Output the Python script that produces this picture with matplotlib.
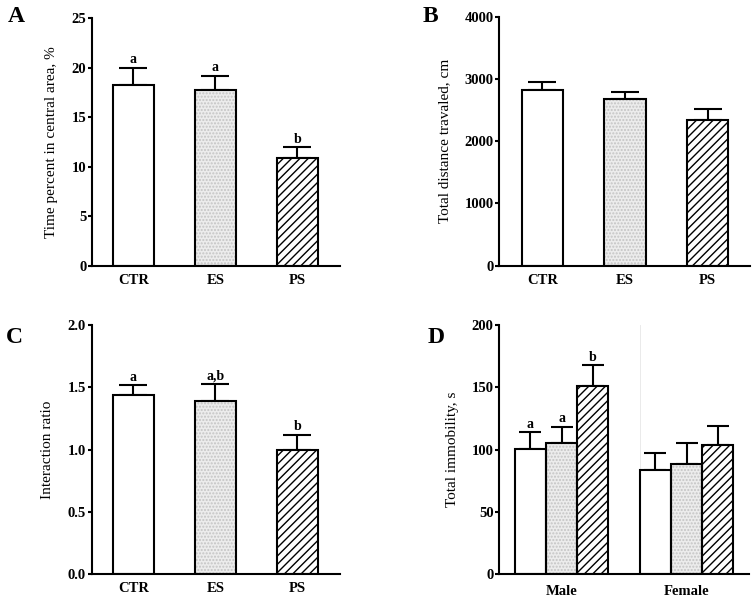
import matplotlib.pyplot as plt
import numpy as np

# panel A: time in central area (%)
groups = ['CTR', 'ES', 'PS']
a_mean = [18.2, 17.7, 10.9]
a_sem = [1.8, 1.5, 1.1]
a_sig = ['a', 'a', 'b']

# panel B: total distance (cm)
b_mean = [2820, 2685, 2345]
b_sem = [135, 110, 165]

# panel C: interaction ratio
c_mean = [1.44, 1.39, 1.00]
c_sem = [0.075, 0.135, 0.12]
c_sig = ['a', 'a,b', 'b']

# panel D: immobility (s), by sex
sexes = ['Male', 'Female']
d_male = [100.5, 105.0, 151.5]
d_male_sem = [13.5, 13.5, 16.5]
d_male_sig = ['a', 'a', 'b']
d_female = [83.5, 88.5, 103.5]
d_female_sem = [14.0, 17.0, 15.5]

plt.rcParams['font.family'] = 'Liberation Serif'
plt.rcParams['hatch.linewidth'] = 1.0

hatches = [None, '.....', '////']


def draw_bars(ax, x, means, sems, width, capsize):
    for i in range(len(means)):
        if hatches[i] == '.....':
            ax.bar(x[i], means[i], width, color='#ececec', edgecolor='#c4c4c4',
                   hatch='.....', linewidth=0, zorder=2)
        elif hatches[i] == '////':
            ax.bar(x[i], means[i], width, color='white', edgecolor='black',
                   hatch='////', linewidth=0, zorder=2)
        else:
            ax.bar(x[i], means[i], width, color='white', linewidth=0, zorder=2)
        ax.bar(x[i], means[i], width, fill=False, edgecolor='black', linewidth=1.5, zorder=3)
    ax.errorbar(x, means, yerr=[np.zeros(len(means)), sems], fmt='none',
                ecolor='black', elinewidth=1.5, capsize=capsize, capthick=1.5, zorder=1)


def add_sig(ax, x, means, sems, labels):
    for xi, m, s, lab in zip(x, means, sems, labels):
        ax.annotate(lab, (xi, m + s), xytext=(0, 1), textcoords='offset points',
                    ha='center', va='bottom', fontsize=10, fontweight='bold')


def style(ax, ylabel, labx):
    for sp in ['top', 'right']:
        ax.spines[sp].set_visible(False)
    for sp in ['left', 'bottom']:
        ax.spines[sp].set_linewidth(1.5)
    ax.tick_params(axis='y', length=3, width=1.5, labelsize=10.5, pad=1)
    ax.tick_params(axis='x', length=0, labelsize=10.5)
    for t in ax.get_yticklabels() + ax.get_xticklabels():
        t.set_fontweight('bold')
    ax.set_ylabel(ylabel, fontsize=11)
    ax.yaxis.set_label_coords(labx, 0.5)


fig = plt.figure(figsize=(7.52, 5.98), dpi=100)

x = np.arange(3)

axA = fig.add_axes([0.1223, 0.5552, 0.3298, 0.4147])
draw_bars(axA, x, a_mean, a_sem, 0.5, 10)
add_sig(axA, x, a_mean, a_sem, a_sig)
axA.set_xlim(-0.506, 2.518)
axA.set_ylim(0, 25)
axA.set_yticks([0, 5, 10, 15, 20, 25])
axA.set_xticks(x)
axA.set_xticklabels(groups)
axA.tick_params(axis='x', pad=6)
style(axA, 'Time percent in central area, %', -0.135)

axB = fig.add_axes([0.6636, 0.5557, 0.3337, 0.4163])
draw_bars(axB, x, b_mean, b_sem, 0.5, 10)
axB.set_xlim(-0.522, 2.51)
axB.set_ylim(0, 4000)
axB.set_yticks([0, 1000, 2000, 3000, 4000])
axB.set_xticks(x)
axB.set_xticklabels(groups)
axB.tick_params(axis='x', pad=6)
style(axB, 'Total distance travaled, cm', -0.19)

axC = fig.add_axes([0.1219, 0.0401, 0.3302, 0.4164])
draw_bars(axC, x, c_mean, c_sem, 0.5, 10)
add_sig(axC, x, c_mean, c_sem, c_sig)
axC.set_xlim(-0.506, 2.518)
axC.set_ylim(0, 2.0)
axC.set_yticks([0, 0.5, 1.0, 1.5, 2.0])
axC.set_yticklabels(['0.0', '0.5', '1.0', '1.5', '2.0'])
axC.set_xticks(x)
axC.set_xticklabels(groups)
axC.tick_params(axis='x', pad=6)
style(axC, 'Interaction ratio', -0.15)

axD = fig.add_axes([0.6636, 0.0401, 0.3324, 0.4159])
xm = np.arange(3)
xf = np.arange(3) + 4
axD.axvline(3.5, color='#e6e6e6', linewidth=0.6, zorder=0)
draw_bars(axD, xm, d_male, d_male_sem, 1.0, 8)
draw_bars(axD, xf, d_female, d_female_sem, 1.0, 8)
add_sig(axD, xm, d_male, d_male_sem, d_male_sig)
axD.set_xlim(-1.0, 7.0)
axD.set_ylim(0, 200)
axD.set_yticks([0, 50, 100, 150, 200])
axD.set_xticks([1, 5])
axD.set_xticklabels(sexes)
axD.tick_params(axis='x', pad=8)
style(axD, 'Total immobility, s', -0.16)

for lab, px, py in [('A', 8, 6), ('B', 423, 6), ('C', 6, 327), ('D', 428, 327)]:
    fig.text(px / 752, 1 - py / 598, lab, fontsize=17, fontweight='bold',
             ha='left', va='top')

fig.savefig('out.png', dpi=100)
